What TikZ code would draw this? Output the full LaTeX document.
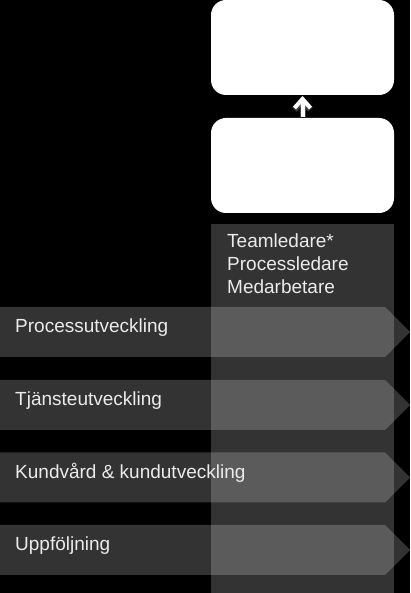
\documentclass[tikz,border=0pt]{standalone}
\usepackage{fontspec}
\setmainfont{Liberation Sans}
\usetikzlibrary{arrows.meta}
\usetikzlibrary{positioning}
\usetikzlibrary{shapes.symbols}

\begin{document}
\begin{tikzpicture}[x=1pt,y=1pt]
	\tikzstyle{whitebox} = [rectangle, fill=white, rounded corners=15pt, 
	minimum width=183pt, minimum height=95pt, inner sep=0pt, outer sep=0pt]
	\tikzstyle{rolecol} = [rectangle, fill=white, fill opacity=0.2, 
	minimum width=183pt, minimum height=369pt, inner sep=0pt, outer sep=0pt]
	\tikzstyle{band} = [signal, signal to=east, signal pointer angle=90, fill=white, fill opacity=0.2, 
	minimum width=410pt, minimum height=50pt, inner sep=0pt, outer sep=0pt]
	\tikzstyle{bandtext} = [text=white!92!black, font=\fontsize{19}{23}\selectfont, inner sep=0pt]
	\tikzstyle{uparrow} = [draw=white, line width=4pt, -{Straight Barb[length=9pt, width=16pt]}]
	
	\fill[black] (0,0) rectangle (410,593);
	\useasboundingbox (0,0) rectangle (410,593);
	
	% Roles column
	\node [rolecol, anchor=south west] (col) at (211,0) {};
	\node [bandtext, anchor=north west, align=left, xshift=16pt, yshift=-10pt] (roles) at (col.north west) {Teamledare*\\Processledare\\Medarbetare};
	
	% Top boxes
	\node [whitebox, anchor=north west] (lower) at (211,475) {};
	\node [whitebox, above=23pt of lower] (upper) {};
	\draw [uparrow, draw opacity=0.25, line width=6pt] ([yshift=1pt]lower.north) -- ([yshift=-1pt]upper.south);
	\draw [uparrow] ([yshift=1pt]lower.north) -- ([yshift=-1pt]upper.south);
	
	% Process bands
	\foreach \i/\y/\txt in {1/261/Processutveckling, 2/188/Tjänsteutveckling, 3/115.5/Kundvård \& kundutveckling, 4/43/Uppföljning} {
		\node [band, anchor=west] (band\i) at (0,\y) {};
		\node [bandtext, anchor=base west, xshift=15pt, yshift=-1pt] (lbl\i) at (band\i.west) {\txt};
	}
	
\end{tikzpicture}
\end{document}
